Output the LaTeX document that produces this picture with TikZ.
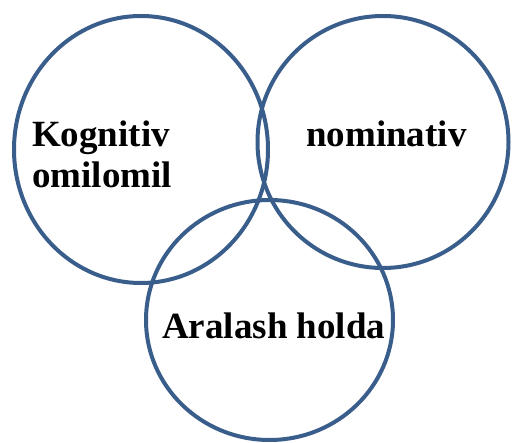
\documentclass[tikz,border=0pt]{standalone}
\usepackage{fontspec}
\setmainfont{Liberation Serif}
\definecolor{ringblue}{RGB}{58,94,140}
\begin{document}
\begin{tikzpicture}[x=1pt,y=-1pt,
  ring/.style={draw=ringblue,line width=4pt},
  lbl/.style={inner sep=0pt,anchor=base west,font=\fontsize{37}{41}\selectfont\bfseries,align=left}]
\useasboundingbox (0,0) rectangle (512,443);
\draw[ring] (141,149.5) ellipse [x radius=127pt,y radius=133.5pt];
\draw[ring] (383,142) ellipse [x radius=125.5pt,y radius=126pt];
\draw[ring] (269.5,320) ellipse [x radius=123.5pt,y radius=120pt];
\node[lbl] (kog) at (32,188) {Kognitiv\\omilomil};
\node[lbl] (nom) at (306,147) {nominativ};
\node[lbl] (ara) at (162,339) {Aralash holda};
\end{tikzpicture}
\end{document}
